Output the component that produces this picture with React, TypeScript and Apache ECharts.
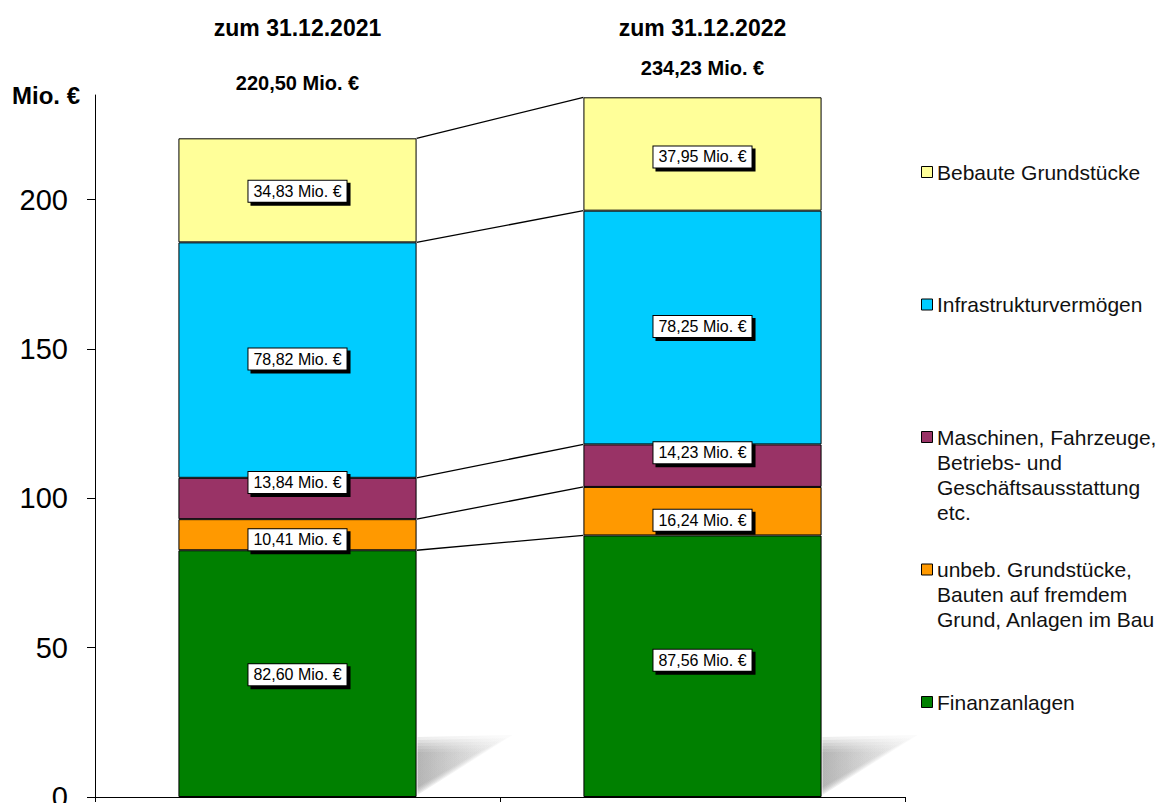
import React, { useEffect, useRef } from "react";
import * as echarts from "echarts";

const CATEGORIES = ["zum 31.12.2021", "zum 31.12.2022"];
const SERIES_NAMES = [
  "Finanzanlagen",
  "unbeb. Grundstücke,\nBauten auf fremdem\nGrund, Anlagen im Bau",
  "Maschinen, Fahrzeuge,\nBetriebs- und\nGeschäftsausstattung\netc.",
  "Infrastrukturvermögen",
  "Bebaute Grundstücke",
];
const FINANZANLAGEN = [82.6, 87.56];
const UNBEBAUT = [10.41, 16.24];
const MASCHINEN = [13.84, 14.23];
const INFRASTRUKTUR = [78.82, 78.25];
const BEBAUT = [34.83, 37.95];
const TOTALS = [220.5, 234.23];
const Y_TICKS = [0, 50, 100, 150, 200];

const SERIES_VALUES = [FINANZANLAGEN, UNBEBAUT, MASCHINEN, INFRASTRUKTUR, BEBAUT];
const COLORS = ["#008000", "#FF9900", "#993366", "#00CCFF", "#FFFF99"];
// label nudges (style only): [series][category] in px
const LABEL_NUDGE = [
  [1, -6],
  [5, 9],
  [-16, -13],
  [-1, -1],
  [1, 3],
];
const TOTAL_LABEL_GAP = [55, 29];
const BAR_RATIO = 0.588;
const FONT = '"Liberation Sans", Arial, sans-serif';

const fmt = (v: number) => v.toFixed(2).replace(".", ",") + " Mio. €";

export default function App() {
  const ref = useRef<HTMLDivElement>(null);
  useEffect(() => {
    if (!ref.current) return;
    const chart = echarts.init(ref.current, null, { renderer: "svg" });

    const cum: number[][] = [[0, 0]];
    SERIES_VALUES.forEach((arr, s) => {
      cum.push([cum[s][0] + arr[0], cum[s][1] + arr[1]]);
    });
    const connectorData = cum.slice(1).map((c) => [0, c[0], c[1]]);

    const barSeries = SERIES_VALUES.map((arr, s) => ({
      name: SERIES_NAMES[s],
      type: "bar",
      stack: "total",
      xAxisIndex: 0,
      barWidth: BAR_RATIO * 100 + "%",
      z: 3,
      itemStyle: { color: COLORS[s], borderColor: "#000", borderWidth: 1 },
      label: {
        show: true,
        position: "inside",
        formatter: (p: any) => fmt(p.value),
        color: "#000",
        fontFamily: FONT,
        fontSize: 16,
        backgroundColor: "#fff",
        borderColor: "#000",
        borderWidth: 1,
        padding: [3, 5, 2, 5],
        shadowColor: "#000",
        shadowOffsetX: 3,
        shadowOffsetY: 3,
        shadowBlur: 0,
      },
      data: arr.map((v, i) => ({ value: v, label: { offset: [0, LABEL_NUDGE[s][i]] } })),
    }));

    const LEGEND_ORDER = [4, 3, 2, 1, 0];
    const legendGraphics: any[] = [];
    LEGEND_ORDER.forEach((s, k) => {
      const cy = 172 + k * 132.5;
      legendGraphics.push({
        type: "rect",
        left: 921,
        top: cy - 6,
        shape: { width: 11, height: 11 },
        style: { fill: COLORS[s], stroke: "#000", lineWidth: 1 },
      });
      legendGraphics.push({
        type: "text",
        left: 937,
        top: cy - 12.5,
        style: {
          text: SERIES_NAMES[s],
          font: `21px ${FONT}`,
          lineHeight: 25,
          fill: "#111",
        },
      });
    });

    const shadowLayers = [0, 1, 2, 3, 4, 5];

    chart.setOption({
      animation: false,
      grid: { left: 95, right: 261, top: 95, bottom: 6, containLabel: false, outerBoundsMode: "none" },
      xAxis: [
        {
          type: "category",
          data: CATEGORIES,
          position: "bottom",
          axisLine: { show: true, lineStyle: { color: "#000", width: 1 } },
          axisTick: { show: true, length: 5, lineStyle: { color: "#000" } },
          axisLabel: { show: false },
        },
        {
          type: "category",
          data: CATEGORIES,
          position: "top",
          axisLine: { show: false },
          axisTick: { show: false },
          axisLabel: {
            show: true,
            margin: 56,
            color: "#000",
            fontFamily: FONT,
            fontWeight: "bold",
            fontSize: 23,
          },
        },
      ],
      yAxis: {
        type: "value",
        min: 0,
        max: 235,
        interval: 50,
        name: "Mio. €",
        nameLocation: "end",
        nameGap: 0,
        nameTextStyle: {
          color: "#000",
          fontFamily: FONT,
          fontWeight: "bold",
          fontSize: 24,
          align: "right",
          verticalAlign: "middle",
          padding: [0, 15, 0, 0],
        },
        axisLine: { show: true, lineStyle: { color: "#000", width: 1 } },
        axisTick: { show: true, length: 8, lineStyle: { color: "#000" }, customValues: Y_TICKS },
        axisLabel: {
          color: "#000",
          fontFamily: FONT,
          fontSize: 29,
          margin: 27,
          customValues: Y_TICKS,
        },
        splitLine: { show: false },
      },
      graphic: legendGraphics,
      series: [
        {
          type: "custom",
          name: "shadow",
          xAxisIndex: 0,
          z: 1,
          silent: true,
          clip: false,
          data: CATEGORIES.map((_, i) => [i, 0]),
          encode: { x: 0, y: 1 },
          renderItem: (params: any, api: any) => {
            const p = api.coord([api.value(0), 0]);
            const bw = api.size([1, 0])[0] * BAR_RATIO;
            const xr = p[0] + bw / 2;
            const y0 = p[1];
            const children = shadowLayers.map((k) => {
              const g = k * 3;
              return {
                type: "polygon",
                shape: {
                  points: [
                    [xr + 1, y0 - 60 + g],
                    [xr + 96 - g * 2.2, y0 - 62 + g * 1.1],
                    [xr + 1, y0 - 2 - g * 0.5],
                  ],
                },
                style: {
                  fill: new echarts.graphic.LinearGradient(0, 0, 1, 0, [
                    { offset: 0, color: "rgba(140,140,140,0.16)" },
                    { offset: 1, color: "rgba(180,180,180,0.05)" },
                  ]),
                },
              };
            });
            return { type: "group", children };
          },
        },
        ...barSeries,
        {
          type: "custom",
          name: "connectors",
          xAxisIndex: 0,
          z: 2,
          silent: true,
          clip: false,
          data: connectorData,
          encode: { x: 0, y: [1, 2] },
          renderItem: (params: any, api: any) => {
            const a = api.coord([0, api.value(1)]);
            const b = api.coord([1, api.value(2)]);
            const bw = api.size([1, 0])[0] * BAR_RATIO;
            return {
              type: "line",
              shape: { x1: a[0] + bw / 2, y1: a[1], x2: b[0] - bw / 2, y2: b[1] },
              style: { stroke: "#000", lineWidth: 1.3 },
            };
          },
        },
        {
          type: "custom",
          name: "totals",
          xAxisIndex: 0,
          z: 4,
          silent: true,
          clip: false,
          data: TOTALS.map((t, i) => [i, t]),
          encode: { x: 0, y: 1 },
          renderItem: (params: any, api: any) => {
            const i = api.value(0);
            const p = api.coord([i, api.value(1)]);
            return {
              type: "text",
              x: p[0],
              y: p[1] - TOTAL_LABEL_GAP[i],
              style: {
                text: fmt(api.value(1)),
                align: "center",
                verticalAlign: "middle",
                font: `bold 20px ${FONT}`,
                fill: "#000",
              },
            };
          },
        },
      ],
    });
    return () => chart.dispose();
  }, []);
  return (
    <div
      ref={ref}
      style={{ position: "absolute", left: 0, top: 0, width: 1166, height: 803, background: "#fff" }}
    />
  );
}
